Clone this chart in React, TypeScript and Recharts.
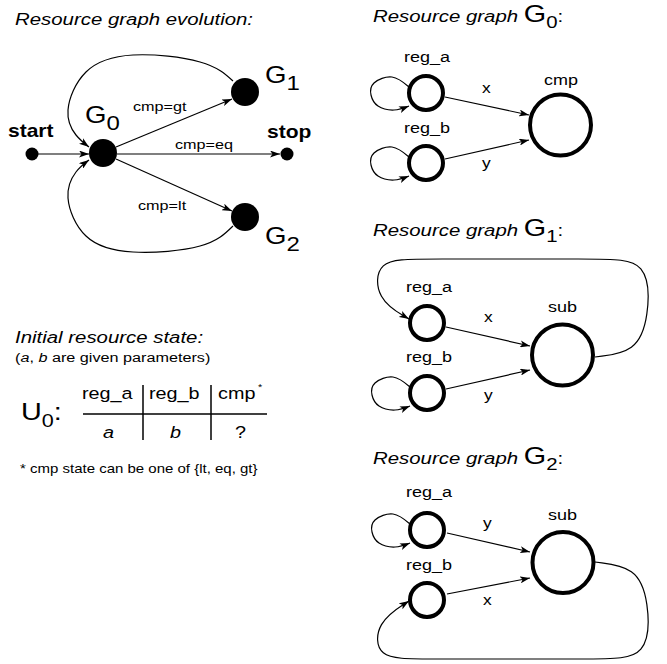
import React from "react";
import { ScatterChart, Scatter, XAxis, YAxis } from "recharts";

const W = 667;
const H = 664;
const FONT = '"Liberation Sans", Arial, Helvetica, sans-serif';
// glyphs in the source are drawn a bit wider than Arial
const SX = 1.2;

// graph nodes (page coordinates)
const evolutionNodes = [
  { id: "start", x: 32, y: 154, kind: "dot" },
  { id: "G0", x: 103, y: 153, kind: "state" },
  { id: "G1", x: 245, y: 92, kind: "state" },
  { id: "G2", x: 245, y: 217, kind: "state" },
  { id: "stop", x: 287, y: 154, kind: "dot" },
];

const registerNodes = [
  { id: "g0_reg_a", x: 426, y: 93, kind: "reg" },
  { id: "g0_reg_b", x: 426, y: 163, kind: "reg" },
  { id: "g1_reg_a", x: 427, y: 323, kind: "reg" },
  { id: "g1_reg_b", x: 427, y: 393, kind: "reg" },
  { id: "g2_reg_a", x: 427, y: 530, kind: "reg" },
  { id: "g2_reg_b", x: 427, y: 600, kind: "reg" },
];

const unitNodes = [
  { id: "g0_cmp", x: 560.5, y: 125, kind: "unit" },
  { id: "g1_sub", x: 562.5, y: 355, kind: "unit" },
  { id: "g2_sub", x: 563, y: 562.5, kind: "unit" },
];

// edges: polyline / spline control points
const evolutionEdges = [
  { id: "start_g0", curve: "linear", arrow: true, points: [{ x: 38, y: 154 }, { x: 89, y: 154 }] },
  { id: "g0_g1", curve: "linear", arrow: true, points: [{ x: 116, y: 147 }, { x: 232, y: 99 }] },
  { id: "g0_stop", curve: "linear", arrow: true, points: [{ x: 117, y: 154 }, { x: 280, y: 154 }] },
  { id: "g0_g2", curve: "linear", arrow: true, points: [{ x: 116, y: 159 }, { x: 232, y: 211 }] },
  {
    id: "g1_g0",
    curve: "natural",
    arrow: true,
    points: [
      { x: 233, y: 81 }, { x: 200, y: 62 }, { x: 133, y: 55 }, { x: 86, y: 72 },
      { x: 68, y: 110 }, { x: 76, y: 135 }, { x: 89, y: 147 },
    ],
  },
  {
    id: "g2_g0",
    curve: "natural",
    arrow: true,
    points: [
      { x: 233, y: 226 }, { x: 200, y: 246 }, { x: 133, y: 252 }, { x: 86, y: 236 },
      { x: 68, y: 198 }, { x: 76, y: 172 }, { x: 89, y: 160 },
    ],
  },
];

const resourceEdges = [
  // G0
  { id: "g0_x", curve: "linear", arrow: true, points: [{ x: 445, y: 97 }, { x: 529, y: 115 }] },
  { id: "g0_y", curve: "linear", arrow: true, points: [{ x: 445, y: 159 }, { x: 529, y: 140 }] },
  {
    id: "g0_loop_a",
    curve: "natural",
    arrow: true,
    points: [
      { x: 409, y: 87 }, { x: 392, y: 77 }, { x: 374, y: 83 }, { x: 371, y: 95 },
      { x: 378, y: 106 }, { x: 394, y: 110 }, { x: 409, y: 106 },
    ],
  },
  {
    id: "g0_loop_b",
    curve: "natural",
    arrow: true,
    points: [
      { x: 409, y: 157 }, { x: 392, y: 147 }, { x: 374, y: 153 }, { x: 371, y: 165 },
      { x: 378, y: 176 }, { x: 394, y: 180 }, { x: 409, y: 176 },
    ],
  },
  // G1
  { id: "g1_x", curve: "linear", arrow: true, points: [{ x: 446, y: 327 }, { x: 530, y: 346 }] },
  { id: "g1_y", curve: "linear", arrow: true, points: [{ x: 446, y: 389 }, { x: 530, y: 370 }] },
  {
    id: "g1_loop_b",
    curve: "natural",
    arrow: true,
    points: [
      { x: 410, y: 387 }, { x: 393, y: 377 }, { x: 375, y: 383 }, { x: 372, y: 395 },
      { x: 379, y: 406 }, { x: 395, y: 410 }, { x: 410, y: 406 },
    ],
  },
  {
    id: "g1_back",
    curve: "basis",
    arrow: true,
    points: [
      { x: 595, y: 357 }, { x: 636, y: 352 }, { x: 649, y: 318 }, { x: 649, y: 259 },
      { x: 600, y: 259 }, { x: 420, y: 259 }, { x: 376, y: 259 }, { x: 376, y: 300 },
      { x: 409, y: 319 },
    ],
  },
  // G2
  { id: "g2_y", curve: "linear", arrow: true, points: [{ x: 447, y: 533 }, { x: 530, y: 552 }] },
  { id: "g2_x", curve: "linear", arrow: true, points: [{ x: 447, y: 594 }, { x: 530, y: 578 }] },
  {
    id: "g2_loop_a",
    curve: "natural",
    arrow: true,
    points: [
      { x: 410, y: 524 }, { x: 393, y: 514 }, { x: 375, y: 520 }, { x: 372, y: 532 },
      { x: 379, y: 543 }, { x: 395, y: 547 }, { x: 410, y: 543 },
    ],
  },
  {
    id: "g2_back",
    curve: "basis",
    arrow: true,
    points: [
      { x: 595, y: 562 }, { x: 636, y: 567 }, { x: 649, y: 600 }, { x: 649, y: 659 },
      { x: 600, y: 659 }, { x: 420, y: 659 }, { x: 376, y: 659 }, { x: 376, y: 622 },
      { x: 409, y: 601 },
    ],
  },
];

const tableRules = [
  { id: "hline", curve: "linear", arrow: false, points: [{ x: 83, y: 414 }, { x: 267, y: 414 }] },
  { id: "v1", curve: "linear", arrow: false, points: [{ x: 143, y: 385 }, { x: 143, y: 440 }] },
  { id: "v2", curve: "linear", arrow: false, points: [{ x: 211, y: 385 }, { x: 211, y: 440 }] },
];

// texts
const evolutionLabels = [
  { kind: "title", text: "Resource graph evolution:", x: 15, y: 25 },
  { kind: "bold", text: "start", x: 8, y: 137 },
  { kind: "bold", text: "stop", x: 267, y: 138 },
  { kind: "big", text: "G", sub: "0", x: 85, y: 123 },
  { kind: "big", text: "G", sub: "1", x: 265, y: 83 },
  { kind: "big", text: "G", sub: "2", x: 265, y: 244 },
  { kind: "edge", text: "cmp=gt", x: 133, y: 111 },
  { kind: "edge", text: "cmp=eq", x: 175, y: 149 },
  { kind: "edge", text: "cmp=lt", x: 138, y: 210 },
];

const resourceLabels = [
  { kind: "titleG", text: "Resource graph ", sub: "0", x: 373, y: 22 },
  { kind: "titleG", text: "Resource graph ", sub: "1", x: 373, y: 236 },
  { kind: "titleG", text: "Resource graph ", sub: "2", x: 373, y: 464 },
  { kind: "node", text: "reg_a", x: 404, y: 62 },
  { kind: "node", text: "reg_b", x: 404, y: 133 },
  { kind: "node", text: "cmp", x: 544, y: 85 },
  { kind: "var", text: "x", x: 482, y: 93 },
  { kind: "var", text: "y", x: 482, y: 168 },
  { kind: "node", text: "reg_a", x: 406, y: 292 },
  { kind: "node", text: "reg_b", x: 406, y: 362 },
  { kind: "node", text: "sub", x: 548, y: 312 },
  { kind: "var", text: "x", x: 484, y: 322 },
  { kind: "var", text: "y", x: 484, y: 400 },
  { kind: "node", text: "reg_a", x: 406, y: 497 },
  { kind: "node", text: "reg_b", x: 406, y: 570 },
  { kind: "node", text: "sub", x: 548, y: 520 },
  { kind: "var", text: "y", x: 483, y: 528 },
  { kind: "var", text: "x", x: 483, y: 605 },
];

const stateLabels = [
  { kind: "title", text: "Initial resource state:", x: 15, y: 343 },
  { kind: "params", text: " are given parameters)", x: 15, y: 362 },
  { kind: "U", text: "U", sub: "0", x: 21, y: 420 },
  { kind: "head", text: "reg_a", x: 82, y: 399 },
  { kind: "head", text: "reg_b", x: 149, y: 399 },
  { kind: "head", text: "cmp", x: 218, y: 399 },
  { kind: "star", text: "*", x: 258, y: 390 },
  { kind: "cell", text: "a", x: 103, y: 438 },
  { kind: "cell", text: "b", x: 170, y: 438 },
  { kind: "head", text: "?", x: 235, y: 438 },
  { kind: "foot", text: "* cmp state can be one of {lt, eq, gt}", x: 20, y: 473 },
];

const NODE_STYLE: Record<string, { r: number; fill: string; stroke: string; sw: number }> = {
  dot: { r: 6.5, fill: "#000", stroke: "none", sw: 0 },
  state: { r: 14, fill: "#000", stroke: "none", sw: 0 },
  reg: { r: 17, fill: "#fff", stroke: "#000", sw: 4 },
  unit: { r: 30.5, fill: "#fff", stroke: "#000", sw: 4 },
};

function Txt({ x, y, children, ...rest }: any) {
  return (
    <text
      transform={`translate(${x} ${y}) scale(${SX} 1)`}
      fontFamily={FONT}
      fill="#000"
      {...rest}
    >
      {children}
    </text>
  );
}

function renderLabel(p: any) {
  const d = p.payload;
  const x = p.cx;
  const y = p.cy;
  switch (d.kind) {
    case "title":
      return <Txt x={x} y={y} fontSize={17} fontStyle="italic">{d.text}</Txt>;
    case "titleG":
      return (
        <Txt x={x} y={y} fontSize={17}>
          <tspan fontStyle="italic">{d.text}</tspan>
          <tspan fontSize={24}>G</tspan>
          <tspan fontSize={17} dy={6}>{d.sub}</tspan>
          <tspan dy={-6}>:</tspan>
        </Txt>
      );
    case "bold":
      return <Txt x={x} y={y} fontSize={17.5} fontWeight="bold">{d.text}</Txt>;
    case "big":
      return (
        <Txt x={x} y={y} fontSize={23}>
          <tspan>{d.text}</tspan>
          <tspan fontSize={20} dy={7}>{d.sub}</tspan>
        </Txt>
      );
    case "U":
      return (
        <Txt x={x} y={y} fontSize={24}>
          <tspan>{d.text}</tspan>
          <tspan fontSize={18} dy={7}>{d.sub}</tspan>
          <tspan dy={-7}>:</tspan>
        </Txt>
      );
    case "edge":
      return <Txt x={x} y={y} fontSize={13.5}>{d.text}</Txt>;
    case "node":
      return <Txt x={x} y={y} fontSize={15}>{d.text}</Txt>;
    case "var":
      return <Txt x={x} y={y} fontSize={14.5}>{d.text}</Txt>;
    case "params":
      return (
        <Txt x={x} y={y} fontSize={13.5}>
          <tspan>(</tspan>
          <tspan fontStyle="italic">a</tspan>
          <tspan>, </tspan>
          <tspan fontStyle="italic">b</tspan>
          <tspan>{d.text}</tspan>
        </Txt>
      );
    case "head":
      return <Txt x={x} y={y} fontSize={16.5}>{d.text}</Txt>;
    case "cell":
      return <Txt x={x} y={y} fontSize={16.5} fontStyle="italic">{d.text}</Txt>;
    case "star":
      return <Txt x={x} y={y} fontSize={9}>{d.text}</Txt>;
    case "foot":
      return <Txt x={x} y={y} fontSize={12.5}>{d.text}</Txt>;
    default:
      return <g />;
  }
}

function renderNode(p: any) {
  const s = NODE_STYLE[p.payload.kind];
  return <circle cx={p.cx} cy={p.cy} r={s.r} fill={s.fill} stroke={s.stroke} strokeWidth={s.sw} />;
}

const noShape = () => <g />;

function edgeSeries(edges: any[], width: number) {
  return edges.map((e) => (
    <Scatter
      key={e.id}
      data={e.points}
      shape={noShape}
      line={{
        stroke: "#000",
        strokeWidth: width,
        fill: "none",
        markerEnd: e.arrow ? "url(#arrowHead)" : undefined,
      }}
      lineJointType={e.curve}
      isAnimationActive={false}
    />
  ));
}

export default function App() {
  return (
    <div style={{ position: "absolute", left: 0, top: 0, width: W, height: H, background: "#fff" }}>
      <ScatterChart width={W} height={H} margin={{ top: 0, right: 0, bottom: 0, left: 0 }}>
        <defs>
          <marker
            id="arrowHead"
            viewBox="0 0 10 7"
            refX={10}
            refY={3.5}
            markerWidth={10}
            markerHeight={7}
            markerUnits="userSpaceOnUse"
            orient="auto"
          >
            <path d="M0,0 L10,3.5 L0,7 L2.5,3.5 Z" fill="#000" />
          </marker>
        </defs>
        <XAxis type="number" dataKey="x" domain={[0, W]} allowDataOverflow hide />
        <YAxis type="number" dataKey="y" domain={[0, H]} allowDataOverflow reversed hide />
        {edgeSeries(evolutionEdges, 1.2)}
        {edgeSeries(resourceEdges, 1.2)}
        {edgeSeries(tableRules, 1.5)}
        <Scatter data={evolutionNodes} shape={renderNode} isAnimationActive={false} />
        <Scatter data={registerNodes} shape={renderNode} isAnimationActive={false} />
        <Scatter data={unitNodes} shape={renderNode} isAnimationActive={false} />
        <Scatter data={evolutionLabels} shape={renderLabel} isAnimationActive={false} />
        <Scatter data={resourceLabels} shape={renderLabel} isAnimationActive={false} />
        <Scatter data={stateLabels} shape={renderLabel} isAnimationActive={false} />
      </ScatterChart>
    </div>
  );
}
